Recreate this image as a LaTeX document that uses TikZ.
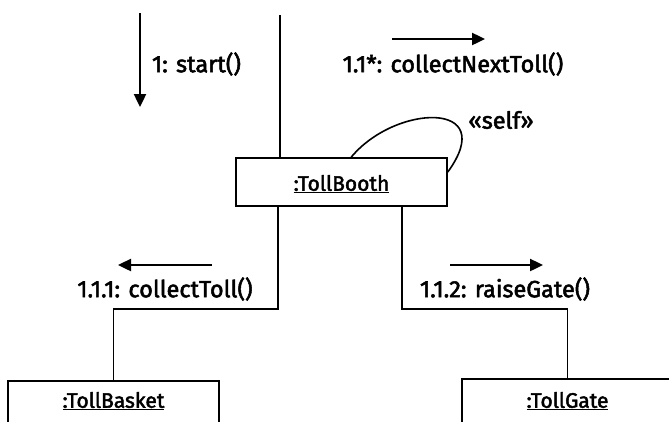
\documentclass[tikz,border=0pt]{standalone}
\usepackage{fontspec}
\setmainfont{Fira Sans}[FakeBold=2.2]
\usetikzlibrary{arrows.meta,calc}
\tikzset{
  obj/.style={draw, line width=1.6pt, minimum width=211pt, inner sep=0pt},
  link/.style={line width=1.6pt},
  msg/.style={line width=2.4pt, -{Triangle[length=13pt,width=12pt]}},
  lbl/.style={font=\fontsize{23.5}{27}\selectfont, inner sep=0pt},
  oname/.style={font=\fontsize{21}{24}\selectfont, inner sep=0pt}
}
\begin{document}
\begin{tikzpicture}[x=1pt,y=-1pt]
  \useasboundingbox (0,0) rectangle (669,421);
  \clip (0,0) rectangle (669,421);

  % objects
  \node[obj, minimum height=48pt] (booth) at (341.5,182) {};
  \node[oname] (boothname) at (341.5,184) {\underline{:TollBooth}};
  \node[obj, minimum height=70pt] (basket) at (113.5,416) {};
  \node[oname] (basketname) at (113.5,401) {\underline{:TollBasket}};
  \node[obj, minimum height=70pt] (gate) at (567.5,414) {};
  \node[oname] (gatename) at (567.5,401) {\underline{:TollGate}};

  % links
  \coordinate (top) at (280,15);
  \draw[link] (top) -- (top |- booth.north);
  \draw[link] ([xshift=43pt]booth.south west) -- ++(0,102) -| (basket.north);
  \draw[link] ([xshift=-46pt]booth.south east) -- ++(0,102) -| (gate.north);
  \draw[link] ([xshift=116pt]booth.north west)
     .. controls (395,104) and (500,100) .. ([yshift=10pt]booth.east);

  % messages
  \coordinate (m1a) at (140,13);   \coordinate (m1b) at (140,107);
  \coordinate (m2a) at (392,39);   \coordinate (m2b) at (485,39);
  \coordinate (m3a) at (212,265);  \coordinate (m3b) at (118,265);
  \coordinate (m4a) at (450,265);  \coordinate (m4b) at (543,265);
  \draw[msg] (m1a) -- (m1b);
  \draw[msg] (m2a) -- (m2b);
  \draw[msg] (m3a) -- (m3b);
  \draw[msg] (m4a) -- (m4b);

  \node[lbl] (l1) at (196.5,64) {1: start()};
  \node[lbl] (l2) at (453,64) {1.1*: collectNextToll()};
  \node[lbl] (l3) at (501,120) {«self»};
  \node[lbl] (l4) at (165,289) {1.1.1: collectToll()};
  \node[lbl] (l5) at (505,289) {1.1.2: raiseGate()};
\end{tikzpicture}
\end{document}
